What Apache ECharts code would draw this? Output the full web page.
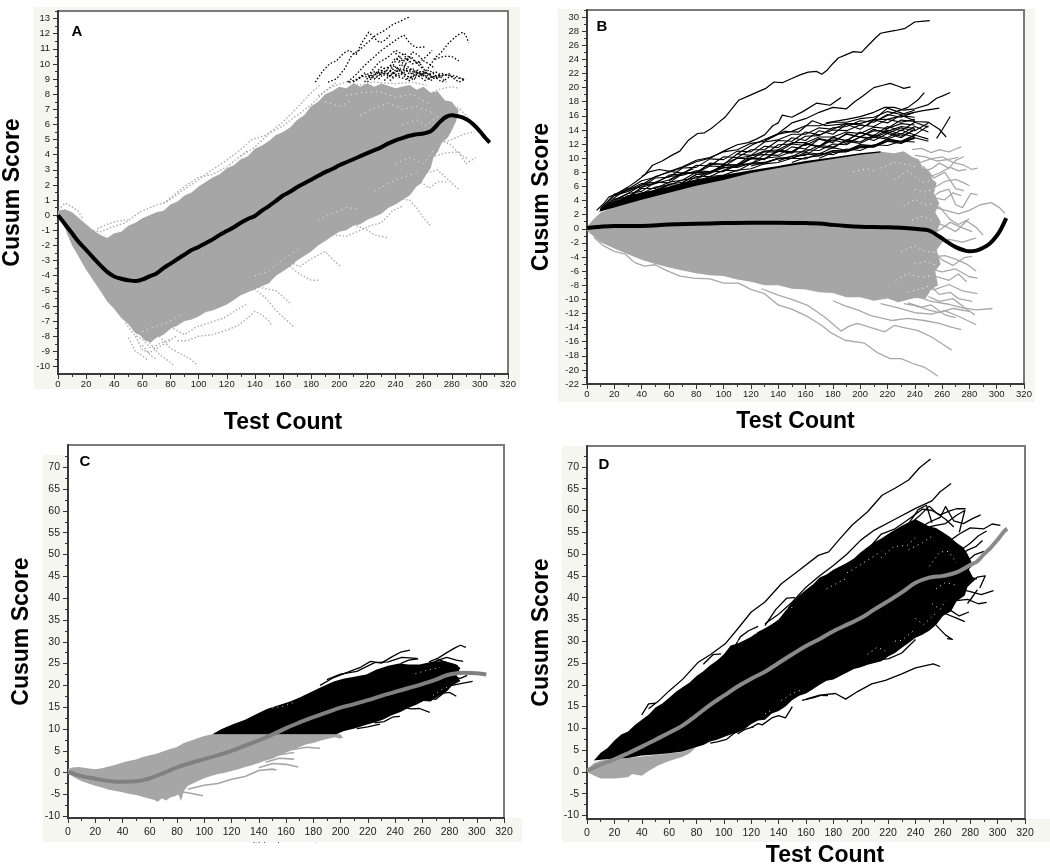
<!DOCTYPE html>
<html><head><meta charset="utf-8">
<style>html,body{margin:0;padding:0;background:#fff}#c{width:1050px;height:867px}</style>
<script src="https://cdn.jsdelivr.net/npm/echarts@6/dist/echarts.min.js"></script>
</head><body><div id="c"></div>
<script>
const xTicks=[0,20,40,60,80,100,120,140,160,180,200,220,240,260,280,300,320];
const yTicksA=[-10,-9,-8,-7,-6,-5,-4,-3,-2,-1,0,1,2,3,4,5,6,7,8,9,10,11,12,13];
const yTicksB=[-22,-20,-18,-16,-14,-12,-10,-8,-6,-4,-2,0,2,4,6,8,10,12,14,16,18,20,22,24,26,28,30];
const yTicksCD=[-10,-5,0,5,10,15,20,25,30,35,40,45,50,55,60,65,70];

// ---------- Panel A ----------
const meanA=[[0,0],[5,-.6],[10,-1.2],[15,-1.8],[20,-2.3],[25,-2.8],[30,-3.3],[35,-3.75],[40,-4.05],[45,-4.2],[50,-4.3],[55,-4.35],[60,-4.25],[65,-4.05],[70,-3.85],[75,-3.5],[80,-3.2],[85,-2.9],[90,-2.6],[95,-2.3],[100,-2.1],[105,-1.85],[110,-1.6],[115,-1.3],[120,-1.05],[125,-.8],[130,-.5],[135,-.25],[140,-.05],[145,.3],[150,.6],[155,.95],[160,1.3],[165,1.55],[170,1.85],[175,2.1],[180,2.35],[185,2.6],[190,2.85],[195,3.05],[200,3.3],[205,3.5],[210,3.7],[215,3.9],[220,4.1],[225,4.3],[230,4.5],[235,4.75],[240,4.95],[245,5.1],[250,5.25],[255,5.35],[260,5.4],[265,5.55],[268,5.8],[272,6.2],[276,6.5],[280,6.6],[284,6.55],[288,6.45],[292,6.25],[296,5.95],[300,5.55],[304,5.1],[307,4.8]];
const bandA=[[0,.3],[5,.4],[10,.2],[15,-.2],[20,-.6],[25,-1],[30,-1.3],[35,-1.5],[40,-1.2],[45,-1.1],[50,-.7],[55,-.5],[60,-.2],[65,0],[70,.2],[75,.3],[80,.7],[85,.9],[90,1.3],[95,1.5],[100,1.9],[105,2.2],[110,2.5],[115,2.7],[120,3.1],[125,3.3],[130,3.7],[135,3.9],[140,4.4],[145,4.6],[150,4.9],[155,5.3],[160,5.5],[165,5.8],[170,6.3],[175,6.6],[180,7.2],[185,7.5],[190,8],[195,8.2],[200,8.5],[205,8.4],[210,8.7],[215,8.5],[220,8.7],[225,8.5],[230,8.7],[240,8.4],[250,8.6],[255,8.3],[260,8.5],[265,8.1],[270,8.2],[275,7.6],[280,7.5],[285,6.9],[283,6.2],[280,5.6],[277,5.1],[273,4.8],[270,4.2],[267,3.8],[265,3.1],[262,2.7],[258,2.1],[255,1.9],[250,1.3],[245,1],[240,.7],[235,.5],[230,.1],[225,-.1],[220,-.3],[215,-.6],[210,-.7],[205,-1],[200,-1.1],[195,-1.4],[190,-1.7],[185,-2],[180,-2.4],[175,-2.7],[170,-3],[165,-3.4],[160,-3.7],[155,-4],[150,-4.5],[145,-4.7],[140,-4.9],[135,-5.1],[130,-5.3],[125,-5.6],[120,-5.9],[115,-6.1],[110,-6.3],[105,-6.4],[100,-6.7],[95,-6.9],[90,-7],[85,-7.3],[80,-7.5],[75,-7.9],[70,-8.1],[66,-8.4],[62,-8.3],[58,-7.9],[55,-7.8],[50,-7.2],[45,-6.8],[40,-6.2],[35,-5.7],[30,-5],[25,-4.3],[20,-3.6],[15,-2.8],[10,-2],[5,-.9],[0,0]];
const fringeA=[
 [[85,-8.3],[92,-8.3],[100,-8],[110,-7.9],[120,-7.6],[128,-7.3],[135,-6.8],[140,-6.35],[145,-6.6],[150,-7],[152,-7.3]],
 [[72,-8],[80,-8.8],[88,-9.2],[94,-9.5],[99,-9.9]],
 [[65,-8.4],[72,-9.2],[78,-9.6],[82,-9.9]],
 [[60,-8.6],[66,-9.3],[70,-9.5]],
 [[55,-8],[60,-8.9],[65,-9.1],[72,-8.7],[78,-8.4],[84,-8]],
 [[48,-7.1],[54,-7.9],[60,-8.2],[66,-8.8],[72,-8.5],[80,-8.2]],
 [[82,-7.5],[90,-7.9],[98,-7.4],[108,-7.1],[118,-6.8],[128,-6.2],[134,-5.9]],
 [[135,-4.7],[145,-4.8],[150,-4.9],[155,-5],[160,-5.4],[166,-5.9]],
 [[125,-5.2],[140,-4.9],[148,-5.5],[155,-6.3],[162,-6.9],[168,-7.4]],
 [[155,-3.1],[165,-3.4],[172,-3.9],[180,-4.3],[185,-4.3]],
 [[165,-3.1],[172,-3.4],[178,-3],[184,-2.7],[190,-2.4],[195,-2.9],[201,-3.4]],
 [[195,-1.3],[205,-1.4],[215,-1],[222,-.7],[230,-.5],[238,.3],[245,.6]],
 [[240,1.1],[250,1],[255,.5],[260,-.2],[265,-.7]],
 [[210,-.6],[220,-1],[225,-1.3],[230,-1.4],[235,-1.5]],
 [[262,2.8],[270,3],[278,2.3],[285,1.7]],
 [[258,2.2],[264,1.8],[270,2.2],[276,2.2]],
 [[268,3.9],[275,4.1],[285,4.2],[290,3.4],[297,3.8]],
 [[265,4.6],[280,5],[290,5.4],[296,5.5]],
 [[272,5],[280,4.6],[286,4],[292,3.7]],
 [[262,7.9],[270,8.3],[280,8.5],[285,8.4]],
 [[272,7.3],[280,7],[285,7.1],[290,6.6],[294,6.2]],
 [[28,-.9],[35,-.6],[42,-.4],[50,-.3]],
 [[2,.5],[5,.8],[9,.6],[14,.3],[18,-.3]],
 [[25,-1],[30,-1.1],[38,-.8],[48,-.5],[58,.2],[68,.6],[78,.9],[88,1.6],[98,2.2],[108,2.9],[118,3.5],[128,4.2],[138,5],[148,5.3],[158,6],[168,6.9],[178,7.9],[186,8.6]],
 [[130,3.9],[140,4.5],[150,5.4],[160,5.9],[170,6.6],[180,7.3],[190,8.2],[198,8.8]],
 [[75,.8],[90,1.9],[100,2.5],[110,2.7],[120,3.2],[135,4.3]],
 [[50,-8.1],[55,-9],[60,-9.3],[64,-9.6]],
 [[185,7.9],[195,8.5],[205,8.8],[215,8.6],[225,8.8],[240,8.7],[252,8.8],[262,8.6]]
];
const gapsA=[
 [[205,7.9],[215,8.1],[228,8.2],[240,7.8],[252,8],[265,7.3]],
 [[215,6.6],[225,7.1],[235,7.4],[245,7],[255,7.2],[268,6.7]],
 [[245,6],[255,6.3],[262,5.9],[272,6.7]],
 [[240,3.4],[250,3.8],[260,3.4],[268,4.4]],
 [[225,1.6],[235,2.1],[245,2.5],[255,2.8]],
 [[185,-.3],[195,.1],[205,.5],[215,.4]],
 [[190,7.5],[200,7.2],[210,7.6]],
 [[140,-4],[150,-3.7],[160,-2.9],[172,-2.2]],
 [[60,-7.7],[68,-7.4],[78,-7.1],[88,-6.5]]
];
const outlierA=[
 [[183,8.8],[188,9.5],[193,10],[198,10.2],[203,10.7],[207,10.9],[212,10.6],[216,11.4],[221,12.1],[225,11.7],[229,11.4],[233,11.6],[236,11.9]],
 [[192,8.8],[198,9],[204,9.7],[209,10.6],[214,10.9],[220,11.4],[226,11.9],[232,12.2],[238,12.6],[243,12.8],[247,13],[250,13.1]],
 [[206,8.8],[212,9.3],[218,9.9],[224,10.4],[230,10.9],[236,11.3],[242,11.7],[246,11.9],[250,11.4],[254,11.1],[258,11.1],[262,11.15]],
 [[258,9.2],[264,9.8],[268,10.4],[272,10.7],[278,11.4],[284,11.9],[288,12.1],[290,11.9],[292,11.4]],
 [[268,10.3],[274,10.5],[280,10.5],[285,10.2]],
 [[240,10.7],[246,10.2],[251,10.5],[256,10],[262,10.5],[266,10.9]],
 [[212,8.9],[218,9.4],[224,9.2],[230,9.8],[236,9.5],[240,10.2],[246,10.7],[252,10.3],[258,9.8],[262,9.5]],
 [[210,8.8],[216,9.2],[222,9.1],[228,9.5],[234,9.3],[240,9.8],[246,9.4],[252,9.7],[258,9.3],[264,9.6],[270,9.1],[276,9.3],[282,9.1],[289,9]],
 [[207,8.8],[213,9],[219,9.3],[225,9],[231,9.6],[237,9.1],[243,9.4],[249,9],[255,9.3],[261,8.9],[267,9.2],[273,8.8],[279,9.2],[285,8.8],[290,9]],
 [[220,8.8],[226,9.3],[232,9.7],[238,9.9],[244,9.5],[250,9.1],[256,9.4],[262,9.2],[268,9.5],[274,9.2],[280,9.4]],
 [[228,9],[234,9.6],[240,10.4],[246,10],[252,9.6],[258,9.3],[264,9],[270,9.3],[276,8.8]],
 [[232,8.9],[238,9.4],[244,10],[250,9.3],[256,9.6],[260,9.3],[266,8.9]],
 [[236,8.9],[240,9.2],[244,9.1],[250,8.9],[256,9.2],[262,9.4],[268,9],[274,9.4]],
 [[218,8.8],[224,9.5],[230,9.3],[236,9.2],[242,9.6],[248,9.2],[254,9]],
 [[242,10.1],[248,10.4],[252,10],[256,10.2],[260,9.7]],
 [[262,9.4],[268,9.1],[275,9.3],[283,9.2],[290,8.9]],
 [[226,9.1],[232,9.5],[238,9.3],[244,9.7],[250,9.5],[255,9.2]],
 [[236,9.6],[242,9.2],[248,9.7],[254,9.4],[260,9.5],[265,9.3]],
 [[222,9.4],[228,10.1],[234,10.4],[240,10.9],[246,10.6],[250,10.1]],
 [[246,9.8],[252,10.8],[256,10.6],[260,10.2],[264,10],[268,9.7]]
];

// ---------- Panel B ----------
const meanB=[[0,.1],[10,.3],[20,.4],[40,.4],[60,.6],[80,.7],[100,.8],[120,.85],[140,.85],[160,.8],[170,.75],[180,.55],[190,.4],[200,.3],[220,.2],[240,0],[248,-.15],[252,-.4],[258,-1.1],[264,-1.9],[270,-2.6],[276,-3.05],[280,-3.2],[285,-3.1],[290,-2.7],[295,-2.1],[300,-1],[303,-.1],[307,1.5]];
const bandB=[[0,.3],[5,1.4],[10,2.3],[20,3.1],[40,4.2],[60,5.2],[80,6.2],[100,7],[120,8],[140,8.7],[160,9.4],[180,10],[200,10.6],[215,10.9],[225,10.7],[232,11],[238,10.2],[243,9.8],[246,8.6],[250,8.4],[253,7],[256,6.5],[254,5],[258,3.6],[255,2.3],[259,1],[256,-.6],[260,-2],[256,-3],[259,-5],[255,-6],[257,-8],[252,-8.6],[248,-9.9],[240,-9.8],[228,-10.4],[220,-9.9],[210,-10.2],[200,-9.7],[190,-9.7],[180,-9.1],[170,-9],[160,-8.6],[150,-8.5],[140,-8],[130,-8],[120,-7.5],[110,-7.2],[100,-6.7],[90,-6.6],[80,-6.3],[70,-5.9],[60,-5.5],[50,-5],[40,-4.4],[30,-3.6],[20,-2.8],[10,-1.9],[5,-1.1],[0,-.3]];
const fringeB=[
 [[5,-1.2],[12,-2.4],[20,-3.2],[28,-3.6],[35,-4.8],[42,-5.3],[50,-5.1],[58,-5.9],[68,-6.7],[78,-7],[90,-7.1],[100,-7.7],[111,-7.7],[120,-8.6],[130,-9.2],[140,-10.8],[150,-11.4],[162,-12.5],[172,-13.7],[179,-14.8],[189,-15.8],[203,-16.2],[213,-17.6],[222,-18.4],[230,-18.4],[240,-19.2],[247,-19.6],[257,-20.9]],
 [[128,-8.5],[140,-9.4],[150,-10],[162,-10.9],[174,-12.5],[186,-14.5],[192,-13.8],[198,-13.4],[208,-14],[218,-14.6],[225,-13.7],[232,-14],[242,-14.4],[252,-15.3],[260,-16.3],[267,-17.2]],
 [[180,-10.2],[190,-11],[198,-11.5],[208,-12.3],[223,-13],[235,-12.7],[247,-13],[258,-13.4],[266,-13.9],[274,-14.3]],
 [[215,-10.6],[228,-11.2],[240,-11.9],[252,-12.1],[262,-11.6],[272,-12.4],[285,-13.6]],
 [[240,-9.5],[252,-10.3],[265,-10.7],[275,-11.2],[285,-11.5],[297,-11.3]],
 [[232,-10.6],[240,-10.9],[250,-11.5],[258,-11.9],[268,-11.3],[280,-11.7]],
 [[245,-8.4],[255,-8.6],[265,-7.9],[275,-8.8],[286,-9.2]],
 [[240,-7],[250,-7.9],[258,-9.3],[266,-9],[272,-9.9],[282,-10.3]],
 [[250,-5.6],[260,-6.1],[270,-5.7],[280,-6.8],[286,-7]],
 [[252,-4],[262,-3.8],[270,-4.3],[278,-5],[285,-6]],
 [[250,-6.6],[258,-6.9],[265,-7.3],[272,-6.4],[278,-7.5]],
 [[250,-9.6],[258,-10.3],[268,-9.9],[278,-11.4],[284,-12.2]],
 [[256,-2],[265,-1.5],[275,-1.9],[285,-1.3]],
 [[252,-3],[260,-4.4],[268,-5.2],[276,-4.1],[282,-3.9]],
 [[235,-10.5],[245,-11.1],[252,-10.8],[262,-12.2],[270,-12.6]],
 [[238,11.2],[245,11.4],[252,10.8],[258,11.2],[265,10.9],[270,11.3],[274,11.6]],
 [[244,9.4],[252,9.9],[260,10.2],[268,9.4],[276,9],[282,8.4],[286,8.6]],
 [[250,7.3],[258,7.9],[266,8.7],[272,8.2],[278,8.4]],
 [[250,4],[258,5.2],[265,5.6],[270,3.4],[275,3],[281,5],[286,4.8]],
 [[255,3],[265,2.5],[272,2.1],[280,2.6],[288,3.4],[296,3.7],[302,3],[306,2.2]],
 [[253,1],[262,.4],[270,-.4],[278,1.1],[285,.2],[290,-.9]],
 [[252,5.6],[262,6.7],[270,7],[276,6.5],[280,6.1]],
 [[245,8],[253,8.6],[258,9.3],[265,8.6],[270,9.7],[276,10.2]],
 [[248,6],[256,4.3],[262,4.1],[268,5.1],[274,4.7]],
 [[250,2.5],[258,3.1],[266,1.3],[272,.6],[280,1.4]],
 [[250,-.8],[258,-.2],[266,.9],[274,.2],[282,-.4]],
 [[246,8.9],[254,7.2],[262,8],[270,5.7],[276,5.4]],
 [[240,10.4],[248,10.2],[256,9.6],[264,9.8],[272,10.1]]
];
const gapsB=[
 [[225,7],[235,8.2],[245,6.6],[255,7]],
 [[232,3.2],[240,4.2],[247,3.4],[254,3.6]],
 [[230,-3.2],[240,-2.4],[248,-3.2],[256,-3.4]],
 [[226,-7.3],[235,-6.3],[245,-6.9],[253,-6.6]],
 [[215,8.6],[225,9.4],[235,9.1],[242,8.7]],
 [[195,8.1],[205,8.5],[212,8.1]],
 [[238,1.2],[246,1.8],[254,1.1]],
 [[235,-9],[245,-8.5],[252,-8]],
 [[240,5.6],[248,5.2],[255,5.8]],
 [[240,-5],[248,-4.6],[256,-5.2]]
];
const outlierB=[
 [[7,2.6],[12,3.5],[16,4.5],[22,5],[30,5.9],[36,6.7],[42,7.6],[48,9],[55,9.6],[62,10.4],[68,11],[74,12.5],[81,13.5],[86,13.6],[91,14.2],[96,15],[101,15.8],[106,17],[111,18.2],[118,18.8],[125,19.4],[131,19.9],[137,20.8],[143,20.7],[150,21.3],[156,21.8],[162,22.2],[168,22.3],[172,21.9],[176,22.5],[179,23.2],[184,24.2],[189,24.6],[195,25.1],[201,25],[206,26],[211,27],[215,27.7],[220,27.9],[226,28.1],[233,28.4],[240,29.3],[245,29.4],[251,29.5]],
 [[20,4.7],[30,5.3],[40,6.2],[50,7.4],[60,8],[70,8.7],[80,9.5],[90,10],[100,11],[110,11.9],[118,12.2],[124,12.7],[130,13.3],[136,14.6],[140,15],[143,16.1],[150,15.8],[158,16.6],[168,17.8],[178,17.5],[186,18.6]],
 [[130,12.6],[140,13.5],[150,15],[160,15.6],[170,16.5],[180,17.2],[190,17],[196,18],[202,18.8],[210,20],[216,20.3],[222,20.6],[228,20.2],[232,19.9],[237,20.1]],
 [[175,15],[190,15.5],[200,15.9],[210,16.5],[218,17.2],[225,17.2],[232,16.8],[240,17],[250,17.6],[256,18.5],[260,18.8],[266,19.3]],
 [[215,15.6],[225,16.5],[235,17.2],[242,18.2],[247,19.3]],
 [[256,12.8],[260,14],[266,15.9]],
 [[110,10.6],[122,12],[132,12.8],[145,13.8],[155,13.7],[165,15.3],[175,14.6],[190,14.9],[205,14.6],[220,17.1],[233,16.2],[245,16.7],[258,17.1]],
 [[218,14],[230,15.4],[240,15.2],[250,15.1],[258,14.1],[263,13]],
 [[40,7.4],[46,8.1],[53,8.4],[62,8.1],[70,7.9],[78,8.5]]
];
const tangleB=[
 [10,2.8,4.9,5.6,6.8,7.3,8.1,8.8,9.7,10.1,10.9,11.2,12.1,12.4,13.4,13.8,14.6,14.6,15.1,15.1,15.6,15.8,16.6,16.2,16.8],
 [10,2.7,4.4,5.7,5.9,7.2,7.3,8.6,8.7,9.9,9.8,11,10.9,12.3,12.6,13.4,13.4,14.3,14.1,14.9,14.9,15.5,15.5,16,15.8],
 [10,2.8,4.1,5,6.2,6.4,7.6,7.8,9,8.9,10.2,10.1,11.2,11.2,12.5,12.4,13.7,13.3,14,13.9,14.7,14.5,15.5,15.1,15.5],
 [10,2.6,4.2,4.5,5.9,6.4,6.9,7.9,8,9.1,9.2,10,10.3,11,11.2,12.2,12.2,13,13,13.7,13.5,14.4,14.2,14.9,14.7],
 [10,2.7,3.9,5,5.3,6.6,6.5,7.8,7.9,8.9,8.8,10,9.9,10.9,10.9,12,11.8,12.8,12.4,13.4,13,13.9,13.8,14.5,14.2],
 [10,2.6,3.8,4.4,5.7,5.7,6.6,6.9,8,7.9,9.1,9,10.1,9.9,11.2,10.9,12,11.6,12.6,12.1,13,12.9,13.7,13.1,14],
 [10,2.7,3.6,4.7,5,5.9,6.2,6.9,7.2,8.1,8.1,9,9.2,10,10.2,10.9,10.9,11.8,11.6,12.4,12.1,13,12.7,13.5,13],
 [10,2.6,3.5,4.2,5.1,5.3,6.2,6.2,7.4,7.4,8.3,8.2,9.2,9.2,10,10,10.8,10.6,11.5,11.1,11.9,11.8,12.7,12.3,13],
 [10,2.6,3.4,4.1,4.6,5.4,5.6,6.5,6.7,7.4,7.6,8.3,8.5,9.2,9.4,10,9.9,10.7,10.5,11.3,11.1,11.9,11.8,12.4,12.3],
 [10,2.6,3.3,4,4.6,5.5,6.3,6.6,7.7,8,9,9.1,10.4,10.5,11.9,12,13.1,13.2,14.3,14.5,15.3,15.1,16.2,15.8,16.5],
 [10,2.9,4.7,5.5,6.4,6.6,7.4,7.6,8.2,8.1,8.7,8.7,9.3,9.4,9.9,10,10.6,10.4,11.1,11,11.7,11.6,12.4,12.3,12.8],
 [60,6.8,7.9,7.9,9.3,9.1,10.6,10.4,11.7,11.5,12.9,12.5,13.9,13.4,14.8,14.1,15.4,15,16.1,15.3],
 [70,6.5,7.7,7.8,9,8.8,10,9.8,11,10.7,12.1,11.6,12.9,12.5,13.6,13.2,14.5,13.9,15.1,14.4],
 [80,7,7.9,8.6,8.9,9.9,9.9,11,10.9,12.1,11.7,13,12.4,13.7,13,14,13.4,14.5,13.7],
 [100,8.3,9.1,9.2,10.5,10.4,11.6,11.3,12.7,12.2,13.5,13,14.1,13.5,14.3,13.9,15],
 [120,8.9,9.4,10,10.2,11.2,11.1,12,11.9,13,12.5,13.5,12.9,14.1],
 [140,9.6,10.3,10.4,11.6,11.4,12.6,12.3,13.3,12.9,14,13.3,14.6],
 [150,9.4,10.1,10.3,11,11,11.9,11.7,12.7,12.4,13.3],
 [170,10,10.8,10.9,11.7,11.7,12.5,12.3,13.3,12.7],
 [190,10.9,11.5,11.6,12.4,12.1,12.9,12.4]
];
const coreB=[[9,2.5],[20,3.9],[30,4.6],[40,5.1],[60,6],[80,7],[100,7.6],[120,8.3],[140,8.9],[160,9.6],[180,10.15],[200,10.7],[215,11],[215,10.8],[200,10.5],[180,9.9],[160,9.3],[140,8.6],[120,7.9],[100,6.9],[80,6.1],[60,5.1],[40,4.1],[20,3],[9,2.4]];

// ---------- Panel C ----------
const meanC=[[0,.2],[10,-.8],[20,-1.4],[30,-1.9],[40,-2.1],[50,-2],[60,-1.3],[70,-.1],[80,1.2],[90,2.2],[100,3.1],[110,4],[120,5],[130,6.2],[140,7.4],[150,8.7],[160,10.2],[170,11.5],[180,12.7],[190,13.8],[200,14.9],[210,15.7],[220,16.6],[230,17.6],[240,18.5],[250,19.4],[260,20.3],[270,21.3],[276,22.1],[280,22.5],[290,22.9],[300,22.8],[307,22.5]];
const bandC=[[0,.8],[3,1.2],[8,1.3],[14,1],[20,.8],[25,1],[30,1.4],[35,1.8],[40,2.3],[45,2.7],[50,3],[55,3.6],[60,4],[65,4.3],[70,4.9],[75,5.4],[80,5.9],[85,6.8],[90,7.3],[95,7.9],[100,8.4],[106,8.8],[200,8.8],[202,7.9],[196,8.1],[190,7.7],[185,7.3],[180,6.8],[175,6.5],[170,5.9],[165,5.2],[160,4.6],[155,3.9],[150,3.2],[145,2.8],[140,2.2],[135,1.7],[130,1.3],[125,.8],[120,.4],[115,0],[110,-.3],[105,-.8],[100,-1.3],[95,-2],[88,-3],[85,-4.2],[83,-6.5],[81,-5],[78,-5.5],[75,-5.7],[72,-6.4],[69,-5.9],[66,-6.7],[63,-6.2],[60,-6],[55,-5.6],[50,-5.1],[45,-4.9],[40,-4.5],[35,-4.2],[30,-3.9],[25,-3.4],[20,-3],[15,-2.5],[10,-2],[5,-1.2],[0,-.2]];
const fringeC=[
 [[88,-3.8],[100,-2.9],[110,-2.5],[120,-1.5],[130,-.9],[140,.5],[150,.8],[153,.6]],
 [[80,-4.3],[88,-4.6],[99,-5.3]],
 [[140,1.1],[150,2.1],[160,1.9],[169,1.3]],
 [[145,2.4],[155,3.3],[166,3.1]],
 [[155,4.1],[166,4.6]],
 [[165,5.3],[175,5.8],[185,5.6]],
 [[190,8.2],[196,8.5],[200,7.9]]
];
const blackC=[[106,8.8],[112,9.9],[121,11.1],[130,12.1],[138,13.4],[146,14.6],[155,15.5],[163,16.3],[170,17.2],[178,18.4],[186,19.6],[195,20.9],[202,21.5],[210,22],[219,22.5],[226,23.6],[235,24.5],[243,25],[250,24.8],[258,24.8],[268,25.5],[276,25.6],[284,24.9],[288,24],[285,22.4],[288,21],[282,20],[278,18.6],[272,17.5],[266,16.3],[261,16.4],[256,15.6],[250,14.9],[244,13.9],[238,13.2],[231,12.1],[225,11.5],[219,11],[211,10.2],[202,9.5],[197,8.8]];
const outlierC=[
 [[185,20],[195,21.8],[205,23],[215,24.2],[222,25.5],[230,25.1],[238,26.6],[244,27.6],[251,28.1]],
 [[190,21.3],[200,22.6],[212,23.2],[225,25.2],[235,25.4],[245,26.4],[256,26.2]],
 [[265,25.4],[272,26.3],[278,27.5],[284,28.6],[288,29.2],[292,28.7]],
 [[270,25.6],[278,26.4],[285,25.8],[290,25.5]],
 [[265,24.6],[272,25.9],[280,25],[286,24.5]],
 [[275,20.6],[282,20],[290,20.5],[297,20.9]],
 [[270,19.5],[276,18.2],[280,18.4],[285,17.5]],
 [[272,21.4],[280,22],[288,21.6],[293,22.3]],
 [[245,15],[252,14.6],[258,14.7],[265.5,13.8]],
 [[225,11.4],[232,11.7],[238,12.7],[243.6,12.9]],
 [[212,10.1],[220,10.5],[229,11.1]],
 [[264,17.2],[270,16.8],[276,18.3]],
 [[244,25],[250,25.8],[257,26.1]]
];
const gapsC=[[[255,22.7],[265,23.6],[273,24.1]],[[150,14.8],[158,15.2],[165,16]],[[268,17.7],[274,19],[280,19.8]]];

// ---------- Panel D ----------
const meanD=[[0,.3],[5,1],[10,1.7],[20,2.9],[30,4.3],[40,5.8],[50,7.4],[60,9],[70,10.7],[80,13],[90,15.4],[100,17.5],[110,19.6],[120,21.4],[130,23],[140,25],[150,27],[160,28.9],[170,30.5],[180,32.3],[190,33.8],[200,35.3],[210,37.3],[220,39.2],[230,41.2],[240,43.4],[250,44.6],[260,45],[270,45.8],[280,47.5],[285,48.3],[290,50],[295,51.5],[300,53.3],[305,55.3],[307,55.8]];
const grayD=[[0,.5],[5,2],[10,2.6],[30,3.2],[70,4.6],[80,5.7],[75,4.3],[70,3.5],[60,2.5],[52,1.5],[45,.2],[40,-.9],[33,-.5],[30,-1.2],[20,-1.5],[10,-1.5],[5,-.8],[0,0]];
const blackD=[[5,2.6],[10,4.4],[15,5.5],[20,7.2],[25,8.6],[30,9.3],[35,10.8],[40,12],[45,13.1],[50,14.8],[55,15.7],[60,17],[65,18.4],[70,19.5],[75,20.5],[80,22],[85,23.1],[90,24.5],[95,25.6],[100,27],[105,29],[110,29.5],[115,30.2],[120,31],[125,32.2],[130,33],[135,33.9],[140,35],[145,37],[150,39],[155,40.5],[160,41.8],[165,43],[170,44.6],[175,45.3],[180,46.4],[185,47.2],[190,48],[195,49],[200,50.4],[205,51.6],[210,52.7],[215,53.6],[220,54.6],[225,55.6],[230,56.5],[235,57.3],[240,58],[245,57.2],[250,56.3],[255,56],[260,55],[265,54],[270,52.6],[275,51.5],[278,50],[282,47.5],[279,46.5],[283,44],[278,42.5],[276,40.5],[270,39.2],[266,36.9],[260,35.8],[255,33.7],[250,32.4],[245,31.5],[240,30.8],[235,29.6],[230,28.5],[225,27.3],[220,26.5],[215,25.4],[210,25],[205,24.6],[200,24],[195,23.6],[190,22.8],[185,22],[180,21.2],[175,20.9],[170,20],[165,19],[160,18],[155,17.5],[150,16.5],[145,15],[140,14],[135,13.4],[130,12],[125,11.8],[120,11],[115,9.8],[110,9],[105,8.6],[100,8],[95,7.4],[90,7],[85,6.2],[80,5.7],[70,4.7],[60,4.3],[50,4],[40,3.8],[30,3.2],[20,3],[10,2.8],[5,2.6]];
const outlierD=[
 [[45,14.5],[52,16.2],[60,18.6],[70,21.3],[81,25.1],[90,26.9],[101,29.4],[110,32.8],[120,36.7],[130,39],[142,43.2],[155,46.3],[169,49.7],[176.6,50.5],[185,53.6],[193.6,56.6],[205,59.7],[215.6,63.5],[225,65.1],[235,67],[243,69.8],[251,71.8]],
 [[130,34],[140,36.2],[150,39],[160,42.4],[170,45],[180,47.4],[190,50],[200,53.2],[210,55.5],[225,58],[240,60.5],[252,62.2],[258,64.3],[266,66.2]],
 [[205,51],[215,54.6],[225,55.8],[235,58],[245,60.3],[252,60],[258,59],[265,59.9],[270,60.4],[276.6,60.4]],
 [[240,55.5],[250,57.3],[258,58.4],[262,60.9],[268,57.6],[275,57],[282,58.2],[287.6,59]],
 [[262,52.4],[272,54.6],[280,56],[290,55.8],[296,56.9],[302,56.6]],
 [[270,50.2],[280,52.5],[286,54.2],[292,55.3]],
 [[275,47.6],[283,49.8],[290,50.6]],
 [[270,46],[278,44.8],[285,44.3]],
 [[272,42],[280,41.4],[288,40.7],[297,41.6]],
 [[270,39.3],[278,39.6],[286,38.6],[292,38.9]],
 [[265,37.2],[272,35.8],[279,36.7]],
 [[255,33.7],[262,31.4],[267,30.4],[263,30.6]],
 [[262,36.3],[270,35.3],[276,34.5]],
 [[157,16.4],[165,17],[172,17.7],[181.5,18],[189,16.7],[198,18.5],[208,20.2],[218,21],[230,22.5],[240,23.9],[253,24.8],[258,24.2]],
 [[150,18.3],[162,20.6],[172,21.6],[186,23.6],[195,24.6],[205,25.4],[220.5,26],[230,27.3],[240,30.4]],
 [[160,19.7],[170,21],[180,22.8],[190,24.6],[200,25.2]],
 [[160,16.7],[170,17.6],[176,17.5]],
 [[120,10.2],[125,11.1],[128,10.8],[135,12.4],[140,12.9],[145,12.4],[150,15]],
 [[110,8.7],[115,9.7],[122,10.4]],
 [[90,6.6],[95,6.9],[102,7.5],[108,9]],
 [[105,27.1],[112,31],[118,32.4],[125,33.4]],
 [[85,24.7],[92,26.9],[98,27.1]],
 [[40,13.1],[45,15.6],[50,15.8]],
 [[130,33.6],[138,37.3],[146,39.9],[152,40]],
 [[230,55.4],[238,57.5],[244,59.1],[250,61],[255,59.5],[262,58],[268,56.2]],
 [[225,53.7],[235,57],[242,60.2],[248,61.2],[252,57.2]],
 [[245,55.9],[255,56.6],[262,57],[270,58.9],[276,60],[272,55]],
 [[272,49.6],[278,50.9],[284,51.7],[289,53.1]],
 [[278,42.8],[285,44.7],[291,45],[287,42.2]],
 [[280,39.4],[285,41.7],[278,38.6]]
];
const gapsD=[
 [[190,45.7],[198,47.2],[208,49.2],[215,50.6]],
 [[215,49.2],[224,51.7],[234,52],[242,54.3]],
 [[175,42],[182,43.2],[190,44.5]],
 [[235,51],[245,52.6],[252,54.1]],
 [[250,47.2],[258,50.5],[264,50.6],[270,48]],
 [[252,38.6],[258,37.3],[262,39.3]],
 [[255,42],[262,43.5],[270,42.8]],
 [[240,35.2],[246,33.8],[255,36.5]],
 [[225,30],[230,30.2],[238,32.3]],
 [[205,27],[212,28.6],[218,27.8]],
 [[110,30],[118,31],[126,32.2]],
 [[140,36],[146,37.4],[152,38]],
 [[142,16.4],[150,18],[156,18.7]],
 [[130,13.3],[136,14.4]]
];

const GRAY='#a6a6a6', FONT='"Liberation Sans", Arial, sans-serif';
const DOTS=[1.5,2], SPECK=[1,4];
const grids=[],xAxes=[],yAxes=[],series=[];

function poly(i,pts,color){
  series.push({type:'custom',xAxisIndex:i,yAxisIndex:2*i,silent:true,z:2,
    data:pts,dimensions:['x','y'],encode:{x:0,y:1},
    renderItem:(p,api)=>p.dataIndex!==0?null:({type:'polygon',shape:{points:pts.map(q=>api.coord(q))},style:{fill:color}})});
}
function line(i,pts,color,w,type,z,smooth){
  series.push({type:'line',xAxisIndex:i,yAxisIndex:2*i,data:pts,showSymbol:false,silent:true,z:z||3,smooth:smooth||false,
    lineStyle:{color:color,width:w,type:type||'solid',join:'round'},animation:false});
}
function rows(step,list){return list.map(r=>r.slice(1).map((y,k)=>[r[0]+k*step,y]));}

function panel(i,c){
  grids.push({left:c.g[0],top:c.g[1],width:c.g[2],height:c.g[3],show:true,backgroundColor:'#fff',borderColor:'#7a7a7a',borderWidth:2,containLabel:false,outerBoundsMode:'none'});
  xAxes.push({type:'value',gridIndex:i,min:0,max:320,interval:20,name:c.xName,nameLocation:'middle',nameGap:c.xGap,nameMoveOverlap:false,
    nameTextStyle:Object.assign({fontFamily:FONT,fontWeight:'bold',fontSize:23,color:'#000'},c.xNameStyle||{}),
    axisLine:{onZero:false,lineStyle:{color:'#3a3a3a',width:2}},
    axisTick:{show:true,length:5,inside:false,lineStyle:{color:'#333',width:1}},
    minorTick:{show:true,splitNumber:2,length:3,lineStyle:{color:'#333',width:1}},
    axisLabel:{color:'#1a1a1a',fontFamily:FONT,fontSize:c.fs,margin:c.xm,customValues:xTicks},
    splitLine:{show:false},minorSplitLine:{show:false}});
  yAxes.push({type:'value',gridIndex:i,min:c.y[0],max:c.y[1],name:'Cusum Score',nameLocation:'middle',nameGap:c.yGap,nameMoveOverlap:false,
    nameTextStyle:{fontFamily:FONT,fontWeight:'bold',fontSize:23,color:'#000'},
    axisLine:{onZero:false,lineStyle:{color:'#3a3a3a',width:2}},
    axisTick:{show:true,length:5,customValues:c.t,lineStyle:{color:'#333',width:1}},
    axisLabel:{color:'#1a1a1a',fontFamily:FONT,fontSize:c.fs,margin:8,customValues:c.t,hideOverlap:false},
    splitLine:{show:false}});
  yAxes.push({type:'value',gridIndex:i,min:c.y[0],max:c.y[1],position:'left',
    axisLine:{show:false,onZero:false},
    axisTick:{show:true,length:3,customValues:c.t.map(v=>v+c.half),lineStyle:{color:'#333',width:1}},
    axisLabel:{show:false},splitLine:{show:false}});
}

panel(0,{g:[58,11,450,363],y:[-10.5,13.5],t:yTicksA,half:.5,fs:9.5,xm:5,xName:'Test Count',xGap:37,yGap:34});
panel(1,{g:[587,10,437,374],y:[-22,31],t:yTicksB,half:1,fs:9.5,xm:5,xName:'Test Count',xGap:26,xNameStyle:{padding:[0,20,0,0]},yGap:34});
panel(2,{g:[68,445,436,373],y:[-10.4,75.1],t:yTicksCD,half:2.5,fs:10.5,xm:9,xName:'within day counter',xGap:24,xNameStyle:{fontSize:10,fontWeight:'normal',color:'#333'},yGap:35});
panel(3,{g:[587,446,438,373],y:[-10.8,74.8],t:yTicksCD,half:2.5,fs:10.5,xm:9,xName:'Test Count',xGap:25,xNameStyle:{padding:[0,0,0,38]},yGap:34});

// A
poly(0,bandA,GRAY);
fringeA.forEach(l=>line(0,l,'#a8a8a8',1.3,DOTS));
gapsA.forEach(l=>line(0,l,'#fff',.9,SPECK));
outlierA.forEach(l=>line(0,l,'#000',1.3,DOTS,4));
line(0,meanA,'#000',4,'solid',6,.4);
// B
poly(1,bandB,GRAY);
fringeB.forEach(l=>line(1,l,'#a8a8a8',1.3,'solid'));
gapsB.forEach(l=>line(1,l,'#fff',1,SPECK));
poly(1,coreB,'#000');
rows(10,tangleB).forEach(l=>line(1,l,'#000',1.1,'solid',4));
outlierB.forEach(l=>line(1,l,'#000',1.2,'solid',4));
line(1,meanB,'#000',4,'solid',6,.4);
// C
poly(2,bandC,GRAY);
fringeC.forEach(l=>line(2,l,GRAY,1.6));
poly(2,blackC,'#000');
outlierC.forEach(l=>line(2,l,'#000',1.3,'solid',4));
gapsC.forEach(l=>line(2,l,'#fff',.8,SPECK,5));
line(2,meanC,'#808080',4,'solid',6,.4);
// D
poly(3,grayD,GRAY);
poly(3,blackD,'#000');
outlierD.forEach(l=>line(3,l,'#000',1.3,'solid',4));
gapsD.forEach(l=>line(3,l,'#fff',.9,SPECK,5));
line(3,meanD,'#8a8a8a',4,'solid',6,.4);

const tint='#f6f6f1';
function rect(x,y,w,h,fill,z){return {type:'rect',shape:{x,y,width:w,height:h},style:{fill},z:z,silent:true};}
function letter(t,x,y){return {type:'text',x,y,z:50,style:{text:t,fontFamily:FONT,fontWeight:'bold',fontSize:15,fill:'#000',textAlign:'center',textVerticalAlign:'middle'}};}

const chart=echarts.init(document.getElementById('c'),null,{renderer:'canvas'});
chart.setOption({animation:false,backgroundColor:'#fff',grid:grids,xAxis:xAxes,yAxis:yAxes,series,
 graphic:{elements:[
  rect(34,7,486,382,tint,-10),rect(558,9,477,393,tint,-10),
  rect(43,455,25,387,tint,-10),rect(43,818,479,24,tint,-10),
  rect(562,446,25,396,tint,-10),rect(562,819,488,23,tint,-10),
  rect(200,843,170,10,'#fff',40),
  letter('A',77,32),letter('B',602,27),letter('C',85,462),letter('D',604,465)
 ]}});
</script></body></html>
